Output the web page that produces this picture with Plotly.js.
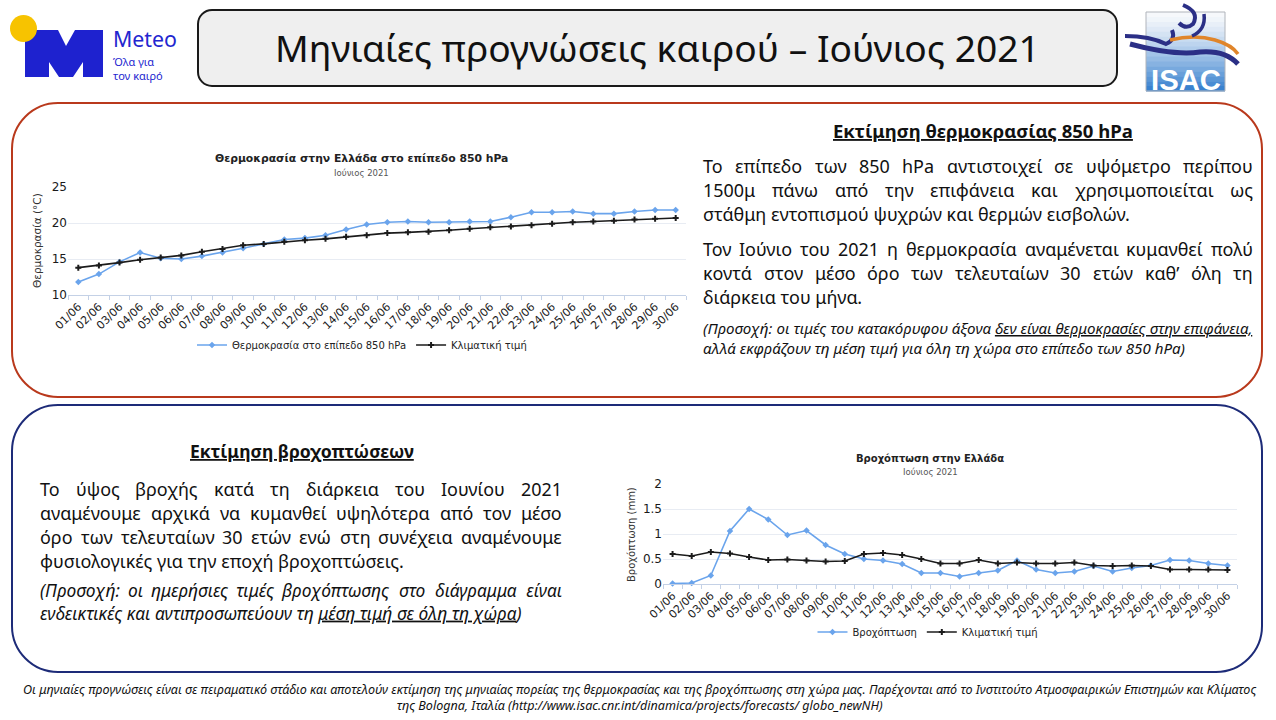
<!DOCTYPE html>
<html><head><meta charset="utf-8">
<script src="https://cdn.plot.ly/plotly-3.0.1.min.js"></script>
<style>html,body{margin:0;padding:0;background:#fff;overflow:hidden}#chart{width:1276px;height:720px}</style>
</head><body><div id="chart"></div>
<script>
// ---------- data ----------
const days = ['01/06','02/06','03/06','04/06','05/06','06/06','07/06','08/06','09/06','10/06',
  '11/06','12/06','13/06','14/06','15/06','16/06','17/06','18/06','19/06','20/06',
  '21/06','22/06','23/06','24/06','25/06','26/06','27/06','28/06','29/06','30/06'];
const tempForecast = [11.8,12.9,14.6,15.9,15.1,15.0,15.4,15.9,16.5,17.1,17.7,17.9,18.3,19.1,19.8,
  20.1,20.2,20.1,20.1,20.2,20.2,20.8,21.5,21.5,21.6,21.3,21.3,21.6,21.8,21.8];
const tempClimate = [13.8,14.1,14.5,14.9,15.2,15.5,16.0,16.4,16.9,17.1,17.4,17.6,17.8,18.1,18.3,
  18.6,18.7,18.8,19.0,19.2,19.4,19.5,19.7,19.9,20.1,20.2,20.3,20.5,20.6,20.7];
const precipForecast = [0.01,0.02,0.17,1.06,1.5,1.29,0.98,1.07,0.78,0.6,0.5,0.47,0.4,0.22,0.22,
  0.15,0.22,0.27,0.47,0.29,0.22,0.25,0.36,0.25,0.32,0.37,0.48,0.47,0.41,0.37];
const precipClimate = [0.6,0.56,0.64,0.61,0.54,0.48,0.49,0.47,0.45,0.46,0.6,0.62,0.58,0.5,0.41,
  0.41,0.48,0.41,0.43,0.41,0.41,0.43,0.37,0.36,0.37,0.36,0.29,0.29,0.29,0.28];
const tempRange = [10, 25];
const precipRange = [0, 2];
const seriesNamesTemp = ['Θερμοκρασία στο επίπεδο 850 hPa', 'Κλιματική τιμή'];
const seriesNamesPrecip = ['Βροχόπτωση', 'Κλιματική τιμή'];

// ---------- texts ----------
const pageTitle = 'Μηνιαίες προγνώσεις καιρού – Ιούνιος 2021';
const headTemp = 'Εκτίμηση θερμοκρασίας 850 hPa';
const headPrecip = 'Εκτίμηση βροχοπτώσεων';
const p1 = ['Το επίπεδο των 850 hPa αντιστοιχεί σε υψόμετρο περίπου',
  '1500μ πάνω από την επιφάνεια και χρησιμοποιείται ως',
  'στάθμη εντοπισμού ψυχρών και θερμών εισβολών.'];
const p2 = ['Τον Ιούνιο του 2021 η θερμοκρασία αναμένεται κυμανθεί πολύ',
  'κοντά στον μέσο όρο των τελευταίων 30 ετών καθ’ όλη τη',
  'διάρκεια του μήνα.'];
const p3 = ['Το ύψος βροχής κατά τη διάρκεια του Ιουνίου 2021',
  'αναμένουμε αρχικά να κυμανθεί υψηλότερα από τον μέσο',
  'όρο των τελευταίων 30 ετών ενώ στη συνέχεια αναμένουμε',
  'φυσιολογικές για την εποχή βροχοπτώσεις.'];
const noteTemp1a = '(Προσοχή: οι τιμές του κατακόρυφου άξονα ';
const noteTemp1b = 'δεν είναι θερμοκρασίες στην επιφάνεια,';
const noteTemp2 = 'αλλά εκφράζουν τη μέση τιμή για όλη τη χώρα στο επίπεδο των 850 hPa)';
const notePrecip1 = '(Προσοχή: οι ημερήσιες τιμές βροχόπτωσης στο διάγραμμα είναι';
const notePrecip2a = 'ενδεικτικές και αντιπροσωπεύουν τη ';
const notePrecip2b = 'μέση τιμή σε όλη τη χώρα';
const footer1 = 'Οι μηνιαίες προγνώσεις είναι σε πειραματικό στάδιο και αποτελούν εκτίμηση της μηνιαίας πορείας της θερμοκρασίας και της βροχόπτωσης στη χώρα μας. Παρέχονται από το Ινστιτούτο Ατμοσφαιρικών Επιστημών και Κλίματος';
const footer2 = 'της Bologna, Ιταλία (http://www.isac.cnr.int/dinamica/projects/forecasts/ globo_newNH)';

// ---------- helpers ----------
const W = 1276, H = 720;
const X = p => p / W, Y = p => 1 - p / H;
const BODY = 'Noto Sans';
const CH = 'DejaVu Sans';
const cx = document.createElement('canvas').getContext('2d');
function tw(t, size, fam, weight, style) {
  cx.font = `${style || 'normal'} ${weight || 'normal'} ${size}px "${fam}"`;
  return cx.measureText(t).width;
}
function fit(t, target, fam, weight, style) { return 100 * target / tw(t, 100, fam, weight, style); }
const ann = [];
function text(t, x, y, size, o = {}) {
  ann.push({
    text: t, x: X(x), y: Y(y), xref: 'paper', yref: 'paper', showarrow: false,
    xanchor: o.anchor || 'left', yanchor: 'middle', borderpad: 0, borderwidth: 0,
    align: o.align || 'center', textangle: o.angle || 0,
    font: { family: o.fam || BODY, size: size, color: o.color || '#111',
      weight: o.weight || 'normal', style: o.style || 'normal',
      lineposition: o.under ? 'under' : 'none' }
  });
}
function para(lines, x0, x1, y0, dy, size, o = {}) {
  lines.forEach((ln, i) => {
    const y = y0 + i * dy;
    if (i === lines.length - 1) { text(ln, x0, y, size, o); return; }
    const words = ln.split(' ');
    const ws = words.map(w => tw(w, size, o.fam || BODY, o.weight, o.style));
    const sum = ws.reduce((a, b) => a + b, 0);
    const gap = (x1 - x0 - sum) / (words.length - 1);
    let x = x0;
    words.forEach((w, j) => { text(w, x, y, size, o); x += ws[j] + gap; });
  });
}
function justifyHair(line, target, size, fam, weight, style) {
  const words = line.split(' ');
  const nat = tw(line, size, fam, weight, style);
  const hair = tw('\u200A', size, fam, weight, style) || 1;
  let total = Math.max(0, Math.round((target - nat) / hair));
  const gaps = words.length - 1;
  return words.map((w, i) => {
    if (i === gaps) return w;
    const k = Math.floor(total / (gaps - i));
    total -= k;
    return w + ' ' + '\u200A'.repeat(k);
  }).join('');
}
const pt = (x, y) => `${X(x)},${Y(y)}`;
function rrect(x0, y0, x1, y1, r) {
  const k = 0.5523 * r;
  return `M${pt(x0 + r, y0)} L${pt(x1 - r, y0)} C${pt(x1 - r + k, y0)} ${pt(x1, y0 + r - k)} ${pt(x1, y0 + r)}` +
    ` L${pt(x1, y1 - r)} C${pt(x1, y1 - r + k)} ${pt(x1 - r + k, y1)} ${pt(x1 - r, y1)}` +
    ` L${pt(x0 + r, y1)} C${pt(x0 + r - k, y1)} ${pt(x0, y1 - r + k)} ${pt(x0, y1 - r)}` +
    ` L${pt(x0, y0 + r)} C${pt(x0, y0 + r - k)} ${pt(x0 + r - k, y0)} ${pt(x0 + r, y0)} Z`;
}
function poly(pts) { return 'M' + pts.map(p => pt(p[0], p[1])).join(' L') + ' Z'; }
function pathStr(cmds) {
  return cmds.map(c => c[0] + c.slice(1).reduce((acc, v, i, arr) => i % 2 === 0 ? acc.concat(pt(v, arr[i + 1])) : acc, []).join(' ')).join(' ');
}

// ---------- shapes ----------
const shapes = [];
shapes.push({ type: 'path', xref: 'paper', yref: 'paper', path: rrect(198, 10, 1117, 86, 14), fillcolor: '#efefef', line: { color: '#1a1a1a', width: 2 }, layer: 'below' });
shapes.push({ type: 'path', xref: 'paper', yref: 'paper', path: rrect(12, 103, 1262, 397, 46), fillcolor: 'rgba(0,0,0,0)', line: { color: '#b9391c', width: 2 }, layer: 'below' });
shapes.push({ type: 'path', xref: 'paper', yref: 'paper', path: rrect(12, 405, 1262, 672, 46), fillcolor: 'rgba(0,0,0,0)', line: { color: '#1d2b78', width: 2 }, layer: 'below' });
// Meteo logo
shapes.push({ type: 'path', xref: 'paper', yref: 'paper', layer: 'above',
  path: poly([[25, 30], [58, 30], [66, 46], [75, 30], [103, 30], [103, 77], [83, 77], [83, 62], [73, 77], [59, 77], [49, 62], [49, 77], [25, 77]]),
  fillcolor: '#1e22cf', line: { width: 0 } });
shapes.push({ type: 'circle', xref: 'paper', yref: 'paper', x0: X(10), x1: X(37), y0: Y(42), y1: Y(15), fillcolor: '#f7c300', line: { width: 0 } });
// ISAC logo: gradient square
const gTop = [246, 248, 251], gBot = [58, 130, 207], nStrip = 16;
for (let i = 0; i < nStrip; i++) {
  const f = i / (nStrip - 1);
  const c = gTop.map((v, j) => Math.round(v + (gBot[j] - v) * Math.pow(f, 1.3)));
  const ya = 12 + (91 - 12) * i / nStrip, yb = 12 + (91 - 12) * (i + 1) / nStrip;
  shapes.push({ type: 'rect', xref: 'paper', yref: 'paper', x0: X(1146), x1: X(1225), y0: Y(yb + 0.5), y1: Y(ya), fillcolor: `rgb(${c.join(',')})`, line: { width: 0 } });
}
shapes.push({ type: 'rect', xref: 'paper', yref: 'paper', x0: X(1146), x1: X(1225), y0: Y(91), y1: Y(12), fillcolor: 'rgba(0,0,0,0)', line: { color: '#b0b4bb', width: 1 } });
shapes.push({ type: 'path', xref: 'paper', yref: 'paper', line: { color: '#2b2f86', width: 4 },
  path: pathStr([['M', 1125, 36], ['Q', 1150, 36, 1166, 44], ['Q', 1176, 40, 1172, 30]]) });
shapes.push({ type: 'path', xref: 'paper', yref: 'paper', line: { color: '#2b2f86', width: 5 },
  path: pathStr([['M', 1130, 44], ['Q', 1175, 56, 1200, 52], ['Q', 1225, 50, 1238, 64]]) });
shapes.push({ type: 'path', xref: 'paper', yref: 'paper', line: { color: '#e0852a', width: 3.5 },
  path: pathStr([['M', 1170, 40], ['Q', 1195, 34, 1215, 40], ['Q', 1232, 45, 1238, 54]]) });
shapes.push({ type: 'path', xref: 'paper', yref: 'paper', line: { color: '#2b2f86', width: 4 },
  path: pathStr([['M', 1183, 5], ['Q', 1200, 12, 1193, 24], ['Q', 1186, 30, 1179, 23]]) });
shapes.push({ type: 'path', xref: 'paper', yref: 'paper', line: { color: '#2b2f86', width: 3.5 },
  path: pathStr([['M', 1204, 14], ['Q', 1206, 30, 1192, 36]]) });

// ---------- annotations ----------
text(pageTitle, 657, 48, fit(pageTitle, 765, BODY), { anchor: 'center' });
text('Meteo', 113, 38.5, fit('Meteo', 64, BODY), { color: '#2326cf' });
text('Όλα για<br>τον καιρό', 113, 68.5, 11, { color: '#2326cf', align: 'left' });
text('ISAC', 1186, 79, fit('ISAC', 70, 'Liberation Sans', 'bold'), { anchor: 'center', fam: 'Liberation Sans', weight: 'bold', color: '#ffffff' });

text(headTemp, 983, 130, fit(headTemp, 300, BODY, 'bold'), { anchor: 'center', weight: 'bold', under: true });
text(headPrecip, 302, 451, fit(headPrecip, 224, BODY, 'bold'), { anchor: 'center', weight: 'bold', under: true });

let bodySize = fit(p1[2], 427, BODY);
[[p1, 550], [p2, 550], [p3, 522]].forEach(([ls, w]) => ls.slice(0, -1).forEach(l => {
  bodySize = Math.min(bodySize, fit(l, w - 6, BODY));
}));
para(p1, 703, 1253, 166, 24, bodySize);
para(p2, 703, 1253, 249, 24, bodySize);
para(p3, 40, 562, 489, 24, bodySize);

const nt = fit(noteTemp1a + noteTemp1b, 550, BODY, 'normal', 'italic');
text(noteTemp1a + '<span style="text-decoration:underline">' + noteTemp1b + '</span><br>' + noteTemp2,
  703, 337.5, nt, { style: 'italic', align: 'left' });
const np = fit(notePrecip2a + notePrecip2b + ')', 482, BODY, 'normal', 'italic');
text(justifyHair(notePrecip1, 522, np, BODY, 'normal', 'italic') + '<br>' + notePrecip2a +
  '<span style="text-decoration:underline">' + notePrecip2b + '</span>)',
  40, 601.5, np, { style: 'italic', align: 'left' });

const fs = fit(footer1, 1234, BODY, 'normal', 'italic');
text(footer1 + '<br>' + footer2, 639, 697.5, fs, { anchor: 'center', style: 'italic' });

// chart titles
text('Θερμοκρασία στην Ελλάδα στο επίπεδο 850 hPa', 361, 158, 10.8, { anchor: 'center', fam: CH, weight: 'bold', color: '#222' });
text('Ιούνιος 2021', 361, 173, 8.5, { anchor: 'center', fam: CH, color: '#555' });
text('Βροχόπτωση στην Ελλάδα', 930, 458, 10, { anchor: 'center', fam: CH, weight: 'bold', color: '#222' });
text('Ιούνιος 2021', 930, 472, 8.5, { anchor: 'center', fam: CH, color: '#555' });
text('Θερμοκρασία (°C)', 37, 241, 10.5, { anchor: 'center', fam: CH, color: '#333', angle: -90 });
text('Βροχόπτωση (mm)', 631, 535, 10, { anchor: 'center', fam: CH, color: '#333', angle: -90 });

// ---------- traces ----------
const blue = '#6aa4ec', black = '#1b1b1b';
const traces = [
  { x: days, y: tempForecast, name: seriesNamesTemp[0], type: 'scatter', mode: 'lines+markers', xaxis: 'x', yaxis: 'y', legend: 'legend',
    line: { color: blue, width: 1.6 }, marker: { color: blue, size: 5, symbol: 'diamond' }, cliponaxis: false },
  { x: days, y: tempClimate, name: seriesNamesTemp[1], type: 'scatter', mode: 'lines+markers', xaxis: 'x', yaxis: 'y', legend: 'legend',
    line: { color: black, width: 1.6 }, marker: { color: black, size: 5, symbol: 'cross' }, cliponaxis: false },
  { x: days, y: precipForecast, name: seriesNamesPrecip[0], type: 'scatter', mode: 'lines+markers', xaxis: 'x2', yaxis: 'y2', legend: 'legend2',
    line: { color: blue, width: 1.6 }, marker: { color: blue, size: 5, symbol: 'diamond' }, cliponaxis: false },
  { x: days, y: precipClimate, name: seriesNamesPrecip[1], type: 'scatter', mode: 'lines+markers', xaxis: 'x2', yaxis: 'y2', legend: 'legend2',
    line: { color: black, width: 1.6 }, marker: { color: black, size: 5, symbol: 'cross' }, cliponaxis: false }
];

const xCommon = {
  type: 'category', range: [-0.5, days.length - 0.5], tickson: 'boundaries', ticks: 'outside', ticklen: 4,
  tickcolor: '#c4d1e6', showline: true, linecolor: '#c4d1e6', linewidth: 1, showgrid: false, zeroline: false,
  tickangle: -45, tickfont: { family: CH, size: 11, color: '#1a1a1a' }, fixedrange: true
};
const yCommon = {
  showgrid: true, gridcolor: '#e8ecf3', gridwidth: 1, zeroline: false, showline: false, ticks: '',
  tickfont: { family: CH, size: 12, color: '#1a1a1a' }, fixedrange: true
};
const layout = {
  width: W, height: H, margin: { l: 0, r: 0, t: 0, b: 0 }, paper_bgcolor: '#ffffff', plot_bgcolor: 'rgba(0,0,0,0)',
  showlegend: true, hovermode: false,
  xaxis: Object.assign({}, xCommon, { domain: [X(68), X(686)], anchor: 'y' }),
  yaxis: Object.assign({}, yCommon, { domain: [Y(295), Y(187)], range: tempRange, dtick: 5, tick0: 10, anchor: 'x' }),
  xaxis2: Object.assign({}, xCommon, { domain: [X(663), X(1237)], anchor: 'y2' }),
  yaxis2: Object.assign({}, yCommon, { domain: [Y(584), Y(484)], range: precipRange, dtick: 0.5, tick0: 0, anchor: 'x2' }),
  legend: { x: X(362), y: Y(345), xanchor: 'center', yanchor: 'middle', orientation: 'h', bgcolor: 'rgba(0,0,0,0)',
    font: { family: CH, size: 10, color: '#222' }, itemwidth: 30 },
  legend2: { x: X(928), y: Y(632), xanchor: 'center', yanchor: 'middle', orientation: 'h', bgcolor: 'rgba(0,0,0,0)',
    font: { family: CH, size: 10, color: '#222' }, itemwidth: 30 },
  shapes: shapes,
  annotations: ann
};
Plotly.newPlot('chart', traces, layout, { staticPlot: true, displayModeBar: false });
</script>
</body></html>
